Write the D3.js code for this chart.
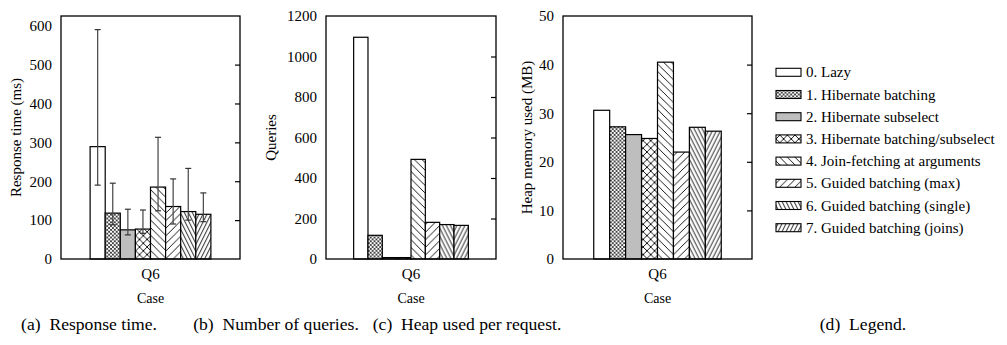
<!DOCTYPE html>
<html>
<head>
<meta charset="utf-8">
<script src="https://cdn.jsdelivr.net/npm/d3@7"></script>
<style>
  html, body { margin: 0; padding: 0; background: #fff; }
  svg text { font-family: "Liberation Serif", "Times New Roman", serif; fill: #000; }
</style>
</head>
<body>
<svg id="fig" width="1007" height="345"></svg>
<script>
// Query case on the x axis
const categories = ["Q6"];

// Fetching strategies, one bar each
const strategies = [
  "0. Lazy",
  "1. Hibernate batching",
  "2. Hibernate subselect",
  "3. Hibernate batching/subselect",
  "4. Join-fetching at arguments",
  "5. Guided batching (max)",
  "6. Guided batching (single)",
  "7. Guided batching (joins)"
];

// Response time (ms): mean, lower and upper error bound
const responseTime = [289, 118, 75, 77, 185, 135, 122, 115];
const responseLow  = [190, 88, 62, 66, 124, 90, 100, 96];
const responseHigh = [590, 195, 128, 126, 313, 206, 233, 170];

// Number of queries issued
const queryCount = [1095, 117, 7, 7, 492, 181, 170, 166];

// Heap memory used per request (MB)
const heapUsed = [30.6, 27.2, 25.6, 24.8, 40.5, 22.0, 27.1, 26.3];

// Tick labels
const responseTicks = [0, 100, 200, 300, 400, 500, 600];
const queryTicks = [0, 200, 400, 600, 800, 1000, 1200];
const heapTicks = [0, 10, 20, 30, 40, 50];

// Captions below each sub-figure
const captions = ["(a)  Response time.", "(b)  Number of queries.", "(c)  Heap used per request.", "(d)  Legend."];

const svg = d3.select("#fig");
const defs = svg.append("defs");

// ---- fill patterns (gnuplot-style hatching) ----
function linePattern(id, w, h, lines, sw) {
  const p = defs.append("pattern")
    .attr("id", id)
    .attr("patternUnits", "userSpaceOnUse")
    .attr("width", w).attr("height", h);
  p.append("rect").attr("width", w).attr("height", h).attr("fill", "#fff");
  lines.forEach(l => {
    p.append("line")
      .attr("x1", l[0]).attr("y1", l[1]).attr("x2", l[2]).attr("y2", l[3])
      .attr("stroke", "#000").attr("stroke-width", sw);
  });
}
// fine crosshatch
linePattern("pat1", 3.8, 3.8, [[0,0,3.8,3.8],[0,3.8,3.8,0],[-1,2.8,1,4.8],[2.8,-1,4.8,1]], 0.7);
// big crosshatch
linePattern("pat3", 7.6, 7.6, [[0,0,7.6,7.6],[0,7.6,7.6,0]], 0.9);
// "\" wide diagonal
linePattern("pat4", 7.6, 7.6, [[0,0,7.6,7.6],[-1,6.6,1,8.6],[6.6,-1,8.6,1]], 0.9);
// "/" wide diagonal
linePattern("pat5", 7.6, 7.6, [[0,7.6,7.6,0],[-1,1,1,-1],[6.6,8.6,8.6,6.6]], 0.9);
// "\" steep
linePattern("pat6", 4, 8, [[0,0,4,8],[-4,0,0,8],[4,0,8,8]], 0.9);
// "/" steep
linePattern("pat7", 4, 8, [[0,8,4,0],[-4,8,0,0],[4,8,8,0]], 0.9);

const fills = ["#fff", "url(#pat1)", "#bebebe", "url(#pat3)", "url(#pat4)", "url(#pat5)", "url(#pat6)", "url(#pat7)"];

// ---- one bar panel ----
function drawPanel(cfg) {
  const g = svg.append("g");
  const x0 = d3.scaleBand().domain(categories)
    .range([cfg.left, cfg.right]).paddingInner(0).paddingOuter(0.241);
  const x1 = d3.scaleBand().domain(d3.range(strategies.length))
    .range([0, x0.bandwidth()]).padding(0);
  const y = d3.scaleLinear().domain(cfg.domain).range([cfg.bottom, cfg.top]);

  // bars
  categories.forEach(cat => {
    const gg = g.append("g").attr("transform", `translate(${x0(cat)},0)`);
    gg.selectAll("rect.bar").data(cfg.values).join("rect")
      .attr("class", "bar")
      .attr("x", (d, i) => x1(i))
      .attr("y", d => y(d))
      .attr("width", x1.bandwidth())
      .attr("height", d => y(0) - y(d))
      .attr("fill", (d, i) => fills[i])
      .attr("stroke", "#000")
      .attr("stroke-width", 1.2);

    if (cfg.low) {
      const eb = gg.selectAll("g.err").data(cfg.values).join("g").attr("class", "err");
      const cx = (d, i) => x1(i) + x1.bandwidth() / 2;
      eb.append("line")
        .attr("x1", cx).attr("x2", cx)
        .attr("y1", (d, i) => y(cfg.low[i])).attr("y2", (d, i) => y(cfg.high[i]))
        .attr("stroke", "#444").attr("stroke-width", 1.2);
      [cfg.low, cfg.high].forEach(arr => {
        eb.append("line")
          .attr("x1", (d, i) => cx(d, i) - 3).attr("x2", (d, i) => cx(d, i) + 3)
          .attr("y1", (d, i) => y(arr[i])).attr("y2", (d, i) => y(arr[i]))
          .attr("stroke", "#333").attr("stroke-width", 1.2);
      });
    }
  });

  // y tick labels on the left, inward ticks on the mirrored right side
  const leftAxis = d3.axisLeft(y).tickValues(cfg.ticks).tickSize(0).tickPadding(9).tickFormat(d3.format("d"));
  const la = g.append("g").attr("transform", `translate(${cfg.left},0)`).call(leftAxis);
  la.select(".domain").remove();
  la.selectAll("text").attr("font-size", 15).attr("font-family", "Liberation Serif").attr("fill", "#000");

  const rightAxis = d3.axisRight(y).tickValues(cfg.ticks.slice(1, -1)).tickSize(-5).tickFormat("");
  const ra = g.append("g").attr("transform", `translate(${cfg.right},0)`).call(rightAxis);
  ra.select(".domain").remove();
  ra.selectAll("line").attr("stroke", "#000").attr("stroke-width", 1.2);

  // x tick label
  const bottomAxis = d3.axisBottom(x0).tickSize(0).tickPadding(9);
  const ba = g.append("g").attr("transform", `translate(0,${cfg.bottom})`).call(bottomAxis);
  ba.select(".domain").remove();
  ba.selectAll("text").attr("font-size", 15).attr("font-family", "Liberation Serif").attr("fill", "#000");

  // frame
  g.append("rect")
    .attr("x", cfg.left).attr("y", cfg.top)
    .attr("width", cfg.right - cfg.left).attr("height", cfg.bottom - cfg.top)
    .attr("fill", "none").attr("stroke", "#000").attr("stroke-width", 1.3);

  // axis titles
  g.append("text")
    .attr("transform", `translate(${cfg.ylabelX},${(cfg.top + cfg.bottom) / 2}) rotate(-90)`)
    .attr("text-anchor", "middle").attr("dominant-baseline", "central")
    .attr("font-size", 15).text(cfg.ylabel);
  g.append("text")
    .attr("x", (cfg.left + cfg.right) / 2).attr("y", 303)
    .attr("text-anchor", "middle").attr("font-size", 14).text("Case");
}

drawPanel({ left: 61, right: 240, top: 16, bottom: 259, domain: [0, 625],
  values: responseTime, low: responseLow, high: responseHigh,
  ticks: responseTicks, ylabel: "Response time (ms)", ylabelX: 16 });
drawPanel({ left: 326, right: 496, top: 16, bottom: 259, domain: [0, 1200],
  values: queryCount, ticks: queryTicks, ylabel: "Queries", ylabelX: 271 });
drawPanel({ left: 563, right: 752, top: 16, bottom: 259, domain: [0, 50],
  values: heapUsed, ticks: heapTicks, ylabel: "Heap memory used (MB)", ylabelX: 527 });

// ---- legend ----
const legendY = d3.scalePoint().domain(d3.range(strategies.length)).range([72.3, 227.7]);
const lg = svg.append("g");
const rows = lg.selectAll("g").data(strategies).join("g")
  .attr("transform", (d, i) => `translate(776,${legendY(i)})`);
rows.append("rect")
  .attr("x", 0).attr("y", -4).attr("width", 25).attr("height", 8)
  .attr("fill", (d, i) => fills[i]).attr("stroke", "#000").attr("stroke-width", 1.1);
rows.append("text")
  .attr("x", 30).attr("y", 0).attr("dominant-baseline", "central")
  .attr("font-size", 15).text(d => d);

// ---- captions ----
const captionX = [89, 276, 467, 863];
svg.selectAll("text.cap").data(captions).join("text")
  .attr("class", "cap")
  .attr("x", (d, i) => captionX[i]).attr("y", 330)
  .attr("text-anchor", "middle").attr("font-size", 17.6)
  .style("white-space", "pre").attr("xml:space", "preserve")
  .text(d => d);
</script>
</body>
</html>
